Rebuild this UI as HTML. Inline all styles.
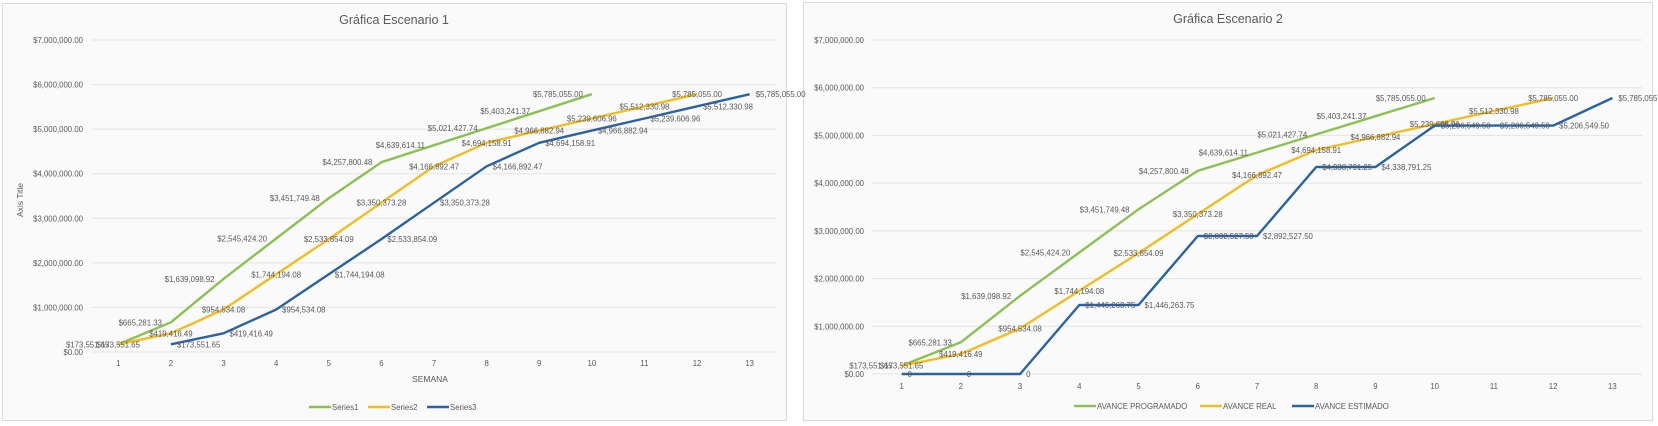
<!DOCTYPE html>
<html><head><meta charset="utf-8">
<style>
html,body{margin:0;padding:0;background:#fff;width:1658px;height:426px;overflow:hidden}
svg{position:absolute;left:0;top:0}
text{font-family:"Liberation Sans",sans-serif;fill:#595959}
</style></head>
<body>
<svg id="root" width="1658" height="426" viewBox="0 0 1658 426">
  <rect x="2.5" y="3.5" width="784" height="417" fill="#fafafa" stroke="#d9d9d9"/>
  <rect x="803.5" y="2.5" width="849" height="418" fill="#fafafa" stroke="#d9d9d9"/>
</svg>
<script>
// ---- data ----
const categories = ["1","2","3","4","5","6","7","8","9","10","11","12","13"];
const yTickValues = [0,1000000,2000000,3000000,4000000,5000000,6000000,7000000];
const yTickLabels = ["$0.00","$1,000,000.00","$2,000,000.00","$3,000,000.00","$4,000,000.00","$5,000,000.00","$6,000,000.00","$7,000,000.00"];
const programado = [173551.65,665281.33,1639098.92,2545424.20,3451749.48,4257800.48,4639614.11,5021427.74,5403241.37,5785055.00];
const real = [173551.65,419416.49,954534.08,1744194.08,2533854.09,3350373.28,4166892.47,4694158.91,4966882.94,5239606.96,5512330.98,5785055.00];
const realLabels = ["$173,551.65","$419,416.49","$954,534.08","$1,744,194.08","$2,533,854.09","$3,350,373.28","$4,166,892.47","$4,694,158.91","$4,966,882.94","$5,239,606.96","$5,512,330.98","$5,785,055.00"];
const series3Esc1 = [null,173551.65,419416.49,954534.08,1744194.08,2533854.09,3350373.28,4166892.47,4694158.91,4966882.94,5239606.96,5512330.98,5785055.00];
const estimadoEsc2 = [0,0,0,1446263.75,1446263.75,2892527.50,2892527.50,4338791.25,4338791.25,5206549.50,5206549.50,5206549.50,5785055.00];
const legend1 = ["Series1","Series2","Series3"];
const legend2 = ["AVANCE PROGRAMADO","AVANCE REAL","AVANCE ESTIMADO"];

const NS="http://www.w3.org/2000/svg";
const root=document.getElementById('root');
const COLORS=["#8cc152","#f2bd1d","#2a62a6"];
function fmt(v){ if(v===0) return "0"; return "$"+v.toLocaleString("en-US",{minimumFractionDigits:2,maximumFractionDigits:2}); }
function mk(tag,attrs,parent){const e=document.createElementNS(NS,tag);for(const k in attrs)e.setAttribute(k,attrs[k]);(parent||root).appendChild(e);return e;}

function drawChart(cfg){
  const g=mk('g',{});
  
  
  const n=categories.length, step=(cfg.x1-cfg.x0)/n;
  const xs=i=>cfg.x0+step*(i+0.5);
  const ys=v=>cfg.y0-(v/7000000)*(cfg.y0-cfg.yTop);
  const t=mk('text',{x:cfg.titleX,y:cfg.titleY,'text-anchor':'middle','font-size':'12.5'},g);
  t.textContent=cfg.title;
  
  
  yTickValues.forEach((v,i)=>{
    const l=mk('line',{x1:cfg.x0,x2:cfg.x1,y1:ys(v),y2:ys(v),stroke:'#e3e3e3','stroke-width':1},g);
    
    
    const tx=mk('text',{x:cfg.yLabX,y:ys(v)+3,'text-anchor':'end','font-size':'7.8'},g);
    tx.textContent=yTickLabels[i];
    
    
  });
  categories.forEach((c,i)=>{
    const tx=mk('text',{x:xs(i),y:cfg.xLabY,'text-anchor':'middle','font-size':'7.8'},g);
    tx.textContent=c;
    
    
  });
  cfg.series.forEach((s,si)=>{
    const pts=[];
    s.forEach((v,i)=>{ if(v!==null) pts.push([xs(i),ys(v),v]); });
    const p=mk('polyline',{points:pts.map(q=>q[0].toFixed(1)+","+q[1].toFixed(1)).join(" "),fill:'none',stroke:COLORS[si],'stroke-width':2.4,'stroke-linejoin':'round'},g);
    
    
    pts.forEach((q,k)=>{
      let anchor='middle',dx=0;
      if(si===0){anchor='end';dx=-9;} else if(si===2){anchor='start';dx=6;}
      const lab=(si===1)?realLabels[k]:fmt(q[2]);
      const tx=mk('text',{x:q[0]+dx,y:q[1]+3,'text-anchor':anchor,'font-size':'7.8'},g);
      tx.textContent=lab;
      
      
    });
  });
  cfg.legendX.forEach((lx,i)=>{
    const l=mk('line',{x1:lx,x2:lx+22,y1:cfg.legY,y2:cfg.legY,stroke:COLORS[i],'stroke-width':2.4},g);
    
    
    const tx=mk('text',{x:lx+23,y:cfg.legY+3,'font-size':'7.8'},g);
    tx.textContent=cfg.legend[i];
    
    
  });
  return g;
}

drawChart({name:'chart-escenario-1',title:'Gráfica Escenario 1',titleX:394,titleY:24,
  x0:92,x1:776,y0:352,yTop:40,yLabX:83,xLabY:366,
  series:[programado,real,series3Esc1],legend:legend1,legendX:[309,368,427],legY:407});
drawChart({name:'chart-escenario-2',title:'Gráfica Escenario 2',titleX:1228,titleY:23,
  x0:872,x1:1642,y0:374,yTop:40,yLabX:864,xLabY:389,
  series:[programado,real,estimadoEsc2],legend:legend2,legendX:[1074,1200,1292],legY:406});

const at=mk('text',{x:23,y:200,'text-anchor':'middle','font-size':'8.5',transform:'rotate(-90 23 200)'});
at.textContent='Axis Title';


const xt=mk('text',{x:430,y:382,'text-anchor':'middle','font-size':'8.5'});
xt.textContent='SEMANA';


</script>
</body></html>
